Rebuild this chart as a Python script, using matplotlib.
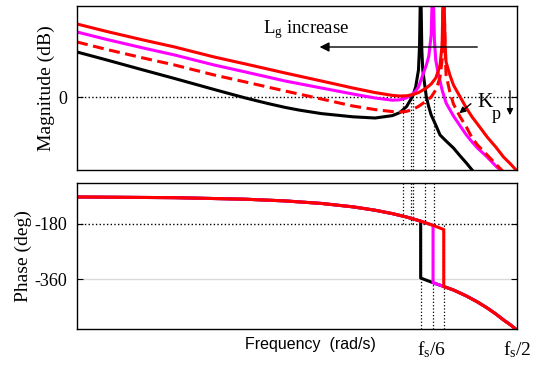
import matplotlib
matplotlib.use('Agg')
import matplotlib.pyplot as plt
from matplotlib.ticker import NullLocator

plt.rcParams['font.family'] = 'Liberation Serif'
plt.rcParams['mathtext.fontset'] = 'custom'
plt.rcParams['mathtext.rm'] = 'Liberation Serif'
plt.rcParams['mathtext.it'] = 'Liberation Serif:italic'
plt.rcParams['axes.unicode_minus'] = False

# frequencies in Hz, sampling frequency fs = 10 kHz
fs = 10000.0

# magnitude (dB)
f_mag_black = [17, 25, 40, 60, 100, 125, 150, 200, 250, 300, 400, 600, 800, 1000, 1100, 1200, 1300,
               1350, 1400, 1420, 1440, 1462, 1480, 1550, 1600, 1650, 1750, 1850, 2000, 2200, 2400,
               2600, 2800, 3000]
mag_black = [22.5, 18.5, 13.5, 9.25, 3.75, 1.4, -0.5, -3.25, -5.2, -6.55, -8.3, -9.9, -10.5, -9.3, -7.8,
             -4.8, 0.5, 5, 13.5, 26, 61, 23.5, 13.5, 0, -5, -9, -14, -19, -22, -25.5, -29.5,
             -33, -36.5, -39.5]

f_mag_magenta = [17, 25, 40, 60, 100, 150, 250, 400, 600, 800, 1000, 1100, 1200, 1300, 1350, 1400,
                 1440, 1480, 1550, 1600, 1650, 1685, 1720, 1750, 1800, 1900, 2000, 2200, 2400,
                 2600, 2800, 3000, 3400, 3800, 4200]
mag_magenta = [32.5, 28.75, 24.5, 21, 16, 12.5, 8, 4.5, 1.5, -0.5, -1.6, -1.4, -0.4, 1.5, 3, 5,
               8, 11, 16, 20.5, 31, 61, 28.5, 18.5, 12.5, 3.5, -3, -9.5, -14.5,
               -19, -22.5, -25.5, -30, -34.5, -38]

f_mag_red = [17, 25, 40, 60, 100, 150, 250, 400, 600, 800, 1000, 1100, 1200, 1300, 1400, 1550,
             1650, 1750, 1800, 1850, 1900, 1935, 1975, 2000, 2100, 2200, 2400, 2600, 2800, 3000,
             3400, 3800, 4200, 4600, 5000]
mag_red = [36.5, 32.75, 28.5, 25, 20, 16.5, 12, 8, 4.5, 2.2, 0.8, 0.5, 0.6, 1.2, 2.2, 4.5,
           6.5, 9.5, 12.5, 16, 26, 61, 26, 17.5, 11, 6, 0, -5.5, -10, -13.5,
           -20, -25, -30, -33.5, -37]

f_mag_red2 = [17, 25, 40, 60, 100, 150, 250, 400, 600, 800, 1000, 1100, 1200, 1300, 1400, 1550,
              1650, 1750, 1800, 1850, 1900, 1935, 1975, 2000, 2100, 2200, 2400, 2600, 2800, 3000,
              3400, 3800, 4200]
mag_red2 = [27.5, 23.75, 19.5, 16, 11, 7.5, 3, -1, -4.5, -6.3, -7.3, -7.5, -7.2, -6.2, -4.7, -2,
            0, 3.5, 6.5, 10, 18.5, 61, 23.5, 11, 2.5, -3.5, -10, -15, -20.5, -24,
            -29, -33.5, -37.5]

# phase (deg)
f_ph_black = [17, 60, 150, 250, 400, 600, 800, 1000, 1200, 1440, 1440, 1690, 1940, 2200, 2600,
              3000, 3400, 3800, 4200, 4600, 5000]
ph_black = [-93, -95.3, -100.3, -105.8, -114, -125, -136, -147, -158, -171.3, -355.8, -371,
            -383.3, -394.6, -414, -433.4, -452.8, -472.2, -491.7, -507.8, -524.6]

f_ph_magenta = [17, 60, 150, 250, 400, 600, 800, 1000, 1200, 1440, 1690, 1690, 1940, 2200, 2600,
                3000, 3400, 3800, 4200, 4600, 5000]
ph_magenta = [-93, -95.3, -100.3, -105.8, -114, -125, -136, -147, -158, -171.3, -185, -371,
              -383.3, -394.6, -414, -433.4, -452.8, -472.2, -491.7, -507.8, -524.6]

f_ph_red = [17, 60, 150, 250, 400, 600, 800, 1000, 1200, 1440, 1690, 1940, 1940, 2200, 2600,
            3000, 3400, 3800, 4200, 4600, 5000]
ph_red = [-93, -95.3, -100.3, -105.8, -114, -125, -136, -147, -158, -171.3, -185, -198.5,
          -383.3, -394.6, -414, -433.4, -452.8, -472.2, -491.7, -507.8, -524.6]

# crossover markers (dotted verticals)
f_cross = [1145, 1269, 1302, 1531, 1709]
f_jump = [1440, 1690, 1940]

xticks = [fs / 6, fs / 2]
xticklabels = [r'$\mathregular{f_s/6}$', r'$\mathregular{f_s/2}$']

fig = plt.figure(figsize=(5.39, 3.66), dpi=100)
ax1 = fig.add_axes([0.1429, 0.5355, 0.8163, 0.4481])
ax2 = fig.add_axes([0.1429, 0.1003, 0.8163, 0.4003])

lw = 2.2
# magnitude
ax1.axhline(0, color='black', lw=1, ls=':', zorder=1)
ax1.vlines(f_cross, -36.5, 0, colors='black', lw=0.9, linestyles=':', zorder=1)
ax1.plot(f_mag_black, mag_black, color='black', lw=lw)
ax1.plot(f_mag_magenta, mag_magenta, color='#ff00ff', lw=lw)
ax1.plot(f_mag_red2, mag_red2, color='#ff0000', lw=lw, ls=(0, (3.6, 1.8)))
ax1.plot(f_mag_red, mag_red, color='#ff0000', lw=lw)

# phase
ax2.axhline(-180, color='black', lw=1, ls=':', zorder=1)
ax2.axhline(-360, color='#d9d9d9', lw=1, zorder=1)
ax2.vlines(f_cross, -180, -47, colors='black', lw=0.9, linestyles=':', zorder=1)
ax2.vlines(f_jump, -522, -180, colors='black', lw=0.9, linestyles=':', zorder=1)
ax2.plot(f_ph_black, ph_black, color='black', lw=lw)
ax2.plot(f_ph_magenta, ph_magenta, color='#ff00ff', lw=lw)
ax2.plot(f_ph_red, ph_red, color='#ff0000', lw=lw)

for ax in (ax1, ax2):
    ax.set_xscale('log')
    ax.set_xlim(17, 5000)
    ax.xaxis.set_minor_locator(NullLocator())
    ax.tick_params(axis='y', direction='in', left=True, right=True, length=4, labelsize=13, pad=7)
    ax.tick_params(axis='x', length=0)
    for s in ax.spines.values():
        s.set_linewidth(1.0)

ax1.set_ylim(-36.5, 45.5)
ax1.set_yticks([0])
ax1.set_yticklabels(['0'])
ax1.set_xticks([])

ax2.set_ylim(-522, -47)
ax2.set_yticks([-180, -360])
ax2.set_yticklabels(['-180', '-360'])
ax2.set_xticks(xticks)
ax2.set_xticklabels(xticklabels, fontsize=14)
ax2.tick_params(axis='x', pad=7)

# annotations
ax1.annotate('', xy=(0.545, 0.75), xytext=(0.916, 0.75), xycoords='axes fraction',
             arrowprops=dict(arrowstyle='-|>', color='black', lw=1, mutation_scale=14))
ax1.text(0.4227, 0.835, r'$\mathregular{L_g}$ increase', transform=ax1.transAxes,
         fontsize=13.5, ha='left', va='baseline')
ax1.text(0.909, 0.384, 'K', transform=ax1.transAxes, fontsize=15.5, ha='left', va='baseline')
ax1.text(0.942, 0.31, 'p', transform=ax1.transAxes, fontsize=13, ha='left', va='baseline')
ax1.annotate('', xy=(0.864, 0.335), xytext=(0.9, 0.415), xycoords='axes fraction',
             arrowprops=dict(arrowstyle='-|>', color='black', lw=1, mutation_scale=9))
ax1.annotate('', xy=(0.984, 0.317), xytext=(0.984, 0.5), xycoords='axes fraction',
             arrowprops=dict(arrowstyle='-|>', color='black', lw=1, mutation_scale=9))

fig.text(46 / 539, 1 - 88.5 / 366, 'Magnitude (dB)', rotation=90, ha='center', va='center', fontsize=14)
fig.text(23.5 / 539, 1 - 256 / 366, 'Phase (deg)', rotation=90, ha='center', va='center', fontsize=14)
fig.text(310.5 / 539, 1 - 345 / 366, 'Frequency  (rad/s)', ha='center', va='center',
         fontsize=11.5, family='Liberation Sans')

fig.savefig('out.png', dpi=100)
